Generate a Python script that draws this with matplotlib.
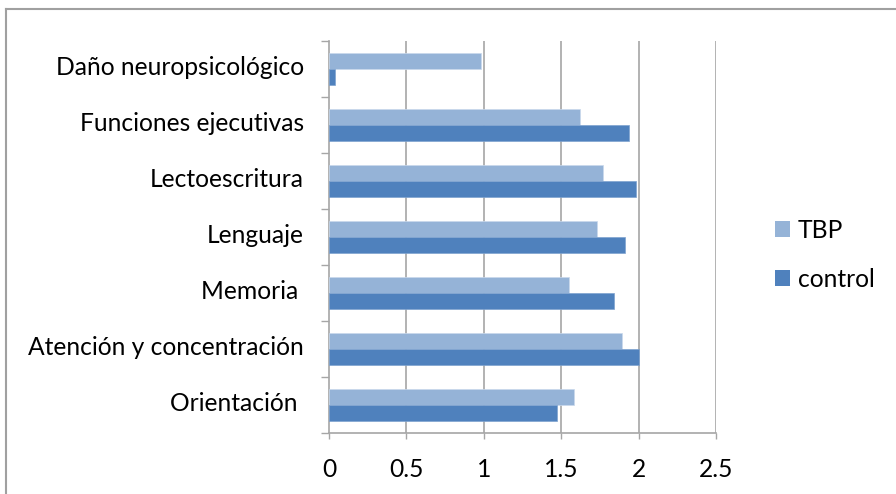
import matplotlib
matplotlib.use("Agg")
import matplotlib.pyplot as plt
import matplotlib.transforms as mtransforms
from matplotlib.patches import Patch
from matplotlib.lines import Line2D
import numpy as np

categories = ["Orientación ", "Atención y concentración", "Memoria ", "Lenguaje",
              "Lectoescritura", "Funciones ejecutivas", "Daño neuropsicológico"]
tbp = [1.58, 1.89, 1.55, 1.73, 1.77, 1.62, 0.98]
control = [1.47, 2.00, 1.84, 1.91, 1.98, 1.94, 0.04]
series_names = ["TBP", "control"]
xticks = [0, 0.5, 1, 1.5, 2, 2.5]
xticklabels = ["0", "0.5", "1", "1.5", "2", "2.5"]

plt.rcParams["font.family"] = ["Lato", "DejaVu Sans"]
FS = 17.7
c_tbp = "#95B3D7"
c_ctl = "#4F81BD"
grid_c = "#A6A6A6"

fig = plt.figure(figsize=(8.96, 4.94), dpi=100)
ax = fig.add_axes([329 / 896, 61 / 494, 387 / 896, 392.3 / 494])

y = np.arange(len(categories))
h = 0.286
ax.barh(y + h / 2, tbp, height=h, color=c_tbp, edgecolor="#C9D9EC", linewidth=0.5, zorder=3)
ax.barh(y - h / 2, control, height=h, color=c_ctl, edgecolor="#7FA3CF", linewidth=0.5, zorder=3)

ax.set_xlim(0, 2.5)
ax.set_ylim(-0.5, len(categories) - 0.5)
ax.set_xticks(xticks)
ax.set_xticklabels(xticklabels, fontsize=FS)
ax.set_yticks(y)
ax.set_yticklabels(categories, fontsize=FS)
ax.set_yticks(np.arange(-0.5, len(categories)), minor=True)
ax.tick_params(axis="y", which="major", length=0, pad=18)
ax.tick_params(axis="y", which="minor", length=6, color=grid_c, width=1)
ax.tick_params(axis="x", which="major", length=4, color=grid_c, width=1, pad=14)

# nudge category labels slightly upward
shift = mtransforms.ScaledTranslation(0, 3 / 100, fig.dpi_scale_trans)
for lbl in ax.get_yticklabels():
    lbl.set_transform(lbl.get_transform() + shift)

for x in xticks[1:]:
    ax.axvline(x, color=grid_c, linewidth=1.2, zorder=1)

for s in ["top", "right"]:
    ax.spines[s].set_visible(False)
for s in ["left", "bottom"]:
    ax.spines[s].set_color(grid_c)
    ax.spines[s].set_linewidth(1.2)

handles = [Patch(facecolor=c_tbp, edgecolor="none"), Patch(facecolor=c_ctl, edgecolor="none")]
fig.legend(handles, series_names, loc="center left", bbox_to_anchor=(775 / 896, 1 - 255 / 494),
           frameon=False, fontsize=FS, handlelength=0.62, handleheight=0.62,
           handletextpad=0.3, labelspacing=1.05, borderpad=0, borderaxespad=0)

# outer frame
fig.add_artist(Line2D([6 / 896, 1.0], [1 - 9 / 494, 1 - 9 / 494], transform=fig.transFigure,
                      color="#A0A0A0", linewidth=1.5))
fig.add_artist(Line2D([6 / 896, 6 / 896], [0, 1 - 9 / 494], transform=fig.transFigure,
                      color="#A0A0A0", linewidth=1.5))

fig.savefig("out.png", dpi=100)
